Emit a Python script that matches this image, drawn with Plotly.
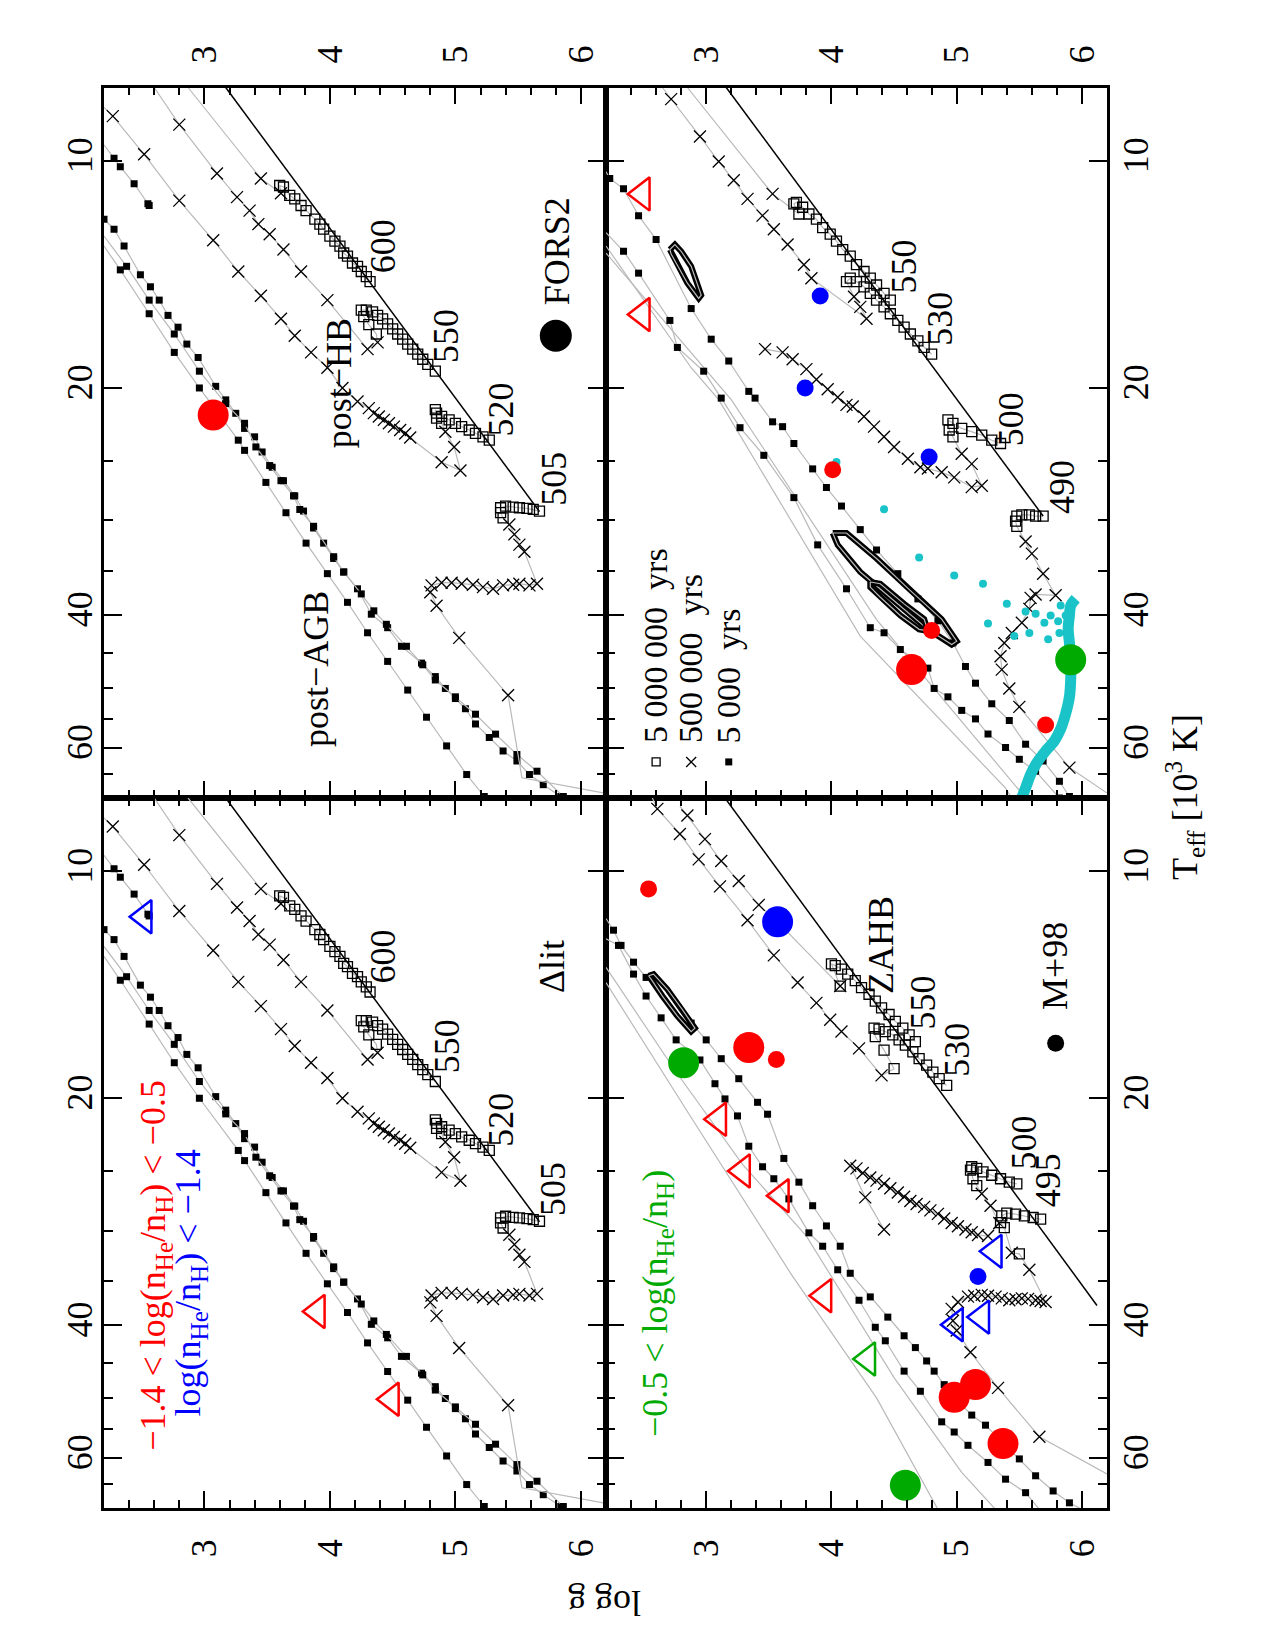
import math
import plotly.graph_objects as go

FONT = "Liberation Serif"
GRAY = "#b9b9b9"
RED = "#ff0000"
BLUE = "#0000ff"
GREEN = "#00aa00"
CYAN = "#19c3c8"

# ---------------- axes values ----------------
LOGG_RANGE = [2.2, 6.2]
TEFF_RANGE = [8.0, 70.0]            # 10^3 K, log axis
LOGG_TICKS = [3, 4, 5, 6]
LOGG_MINOR = [2.4, 2.6, 2.8, 3.2, 3.4, 3.6, 3.8, 4.2, 4.4, 4.6, 4.8, 5.2, 5.4, 5.6, 5.8]
TEFF_TICKS = [10, 20, 40, 60]
TEFF_LONG_UNLABELLED = [15]
TEFF_MINOR = [25, 30, 35, 45, 50, 55, 65]

# ---------------- tracks: (log g, Teff [kK], marker) ----------------
# marker: s = every 5 000 000 yrs, x = every 500 000 yrs, f = every 5 000 yrs, - = none
ZAHB_LEFT = [(3.17, 8.0), (5.67, 29.2)]
ZAHB_TR = [(3.16, 8.0), (5.69, 29.6)]
ZAHB_BR = [(3.15, 8.0), (6.12, 37.7)]

A600 = [(4.32, 14.47, 's'), (4.29, 14.25, 's'), (4.25, 14.03, 's'), (4.22, 13.81, 's'), (4.18, 13.67, 's'),
        (4.14, 13.39, 's'), (4.11, 13.26, 's'), (4.08, 12.98, 's'), (4.04, 12.79, 's'), (4.00, 12.59, 's'),
        (3.95, 12.33, 's'), (3.92, 12.14, 's'), (3.88, 11.96, 's'), (3.81, 11.65, 's'), (3.77, 11.47, 's'),
        (3.72, 11.24, 's'), (3.68, 11.12, 's'), (3.63, 10.84, 's'), (3.60, 10.79, 's'), (3.61, 11.05, 'x'),
        (3.45, 10.56, 'x'), (2.87, 8.0, '-')]
A550 = [(4.84, 19.02, 's'), (4.78, 18.63, 's'), (4.74, 18.34, 's'), (4.70, 18.06, 's'), (4.66, 17.78, 's'),
        (4.62, 17.51, 's'), (4.58, 17.25, 's'), (4.54, 16.98, 's'), (4.50, 16.72, 's'), (4.46, 16.46, 's'),
        (4.42, 16.21, 's'), (4.38, 16.04, 's'), (4.34, 15.87, 's'), (4.29, 15.79, 's'), (4.25, 15.79, 's'),
        (4.27, 16.10, 's'), (4.31, 16.50, 's'), (4.37, 16.98, 's'), (4.38, 17.42, 'x'), (4.30, 17.78, 'x'),
        (3.98, 15.31, 'x'), (3.77, 14.03, 'x'), (3.63, 13.12, 'x'), (3.52, 12.52, 'x'), (3.43, 12.14, 'x'),
        (3.36, 11.65, 'x'), (3.26, 11.18, 'x'), (3.10, 10.40, 'x'), (2.80, 8.96, 'x'), (2.60, 8.0, '-')]
A520 = [(5.27, 23.48, 's'), (5.22, 23.24, 's'), (5.16, 23.00, 's'), (5.11, 22.76, 's'), (5.05, 22.53, 's'),
        (5.00, 22.30, 's'), (4.95, 22.07, 's'), (4.89, 21.84, 's'), (4.85, 21.62, 's'), (4.84, 21.39, 's'),
        (4.85, 21.95, 's'), (4.89, 22.30, 's'), (4.92, 22.88, 'x'), (4.99, 23.97, 'x'), (5.04, 25.76, 'x'),
        (4.89, 25.11, 'x'), (4.64, 23.29, 'x'), (4.60, 23.00, 'x'), (4.56, 22.76, 'x'), (4.51, 22.53, 'x'),
        (4.47, 22.30, 'x'), (4.43, 22.07, 'x'), (4.39, 21.84, 'x'), (4.35, 21.62, 'x'), (4.31, 21.29, 'x'),
        (4.22, 20.86, 'x'), (4.10, 20.02, 'x'), (3.98, 18.82, 'x'), (3.85, 17.96, 'x'), (3.72, 17.07, 'x'),
        (3.61, 16.21, 'x'), (3.45, 15.11, 'x'), (3.27, 14.03, 'x'), (3.07, 12.75, 'x'), (2.80, 11.30, 'x'),
        (2.52, 9.81, 'x'), (2.27, 8.73, 'x'), (2.20, 8.50, '-')]
A505 = [(5.67, 29.15, 's'), (5.62, 29.01, 's'), (5.57, 28.92, 's'), (5.51, 28.86, 's'), (5.46, 28.80, 's'),
        (5.40, 28.71, 's'), (5.36, 28.86, 's'), (5.36, 29.30, 's'), (5.38, 29.76, 's'), (5.43, 30.38, 'x'),
        (5.47, 31.30, 'x'), (5.51, 32.30, 'x'), (5.55, 33.00, 'x'), (5.65, 36.39, 'x'), (5.59, 36.58, 'x'),
        (5.51, 36.39, 'x'), (5.46, 36.50, 'x'), (5.38, 36.58, 'x'), (5.30, 36.96, 'x'), (5.22, 36.77, 'x'),
        (5.14, 36.50, 'x'), (5.05, 36.39, 'x'), (4.97, 36.28, 'x'), (4.89, 36.28, 'x'), (4.81, 36.58, 'x'),
        (4.80, 37.35, 'x'), (4.85, 38.92, 'x'), (5.03, 42.93, 'x'), (5.42, 51.14, 'x'), (5.53, 65.80, '-'),
        (6.20, 69.00, '-')]
A_PA_SHORT = [(2.20, 9.53, '-'), (2.28, 9.93, 'f'), (2.33, 10.19, 'f'), (2.44, 10.73, 'f'), (2.55, 11.41, 'f'),
              (2.56, 11.47, 'f')]
A_PA_U = [(2.20, 11.96, 'f'), (2.28, 12.33, 'f'), (2.36, 12.98, 'f'), (2.49, 14.17, 'f'), (2.57, 14.70, 'f'),
          (2.64, 15.31, 'f'), (2.71, 16.04, 'f'), (2.79, 16.63, 'f'), (2.86, 17.51, 'f'), (2.95, 18.24, 'f'),
          (3.09, 19.92, 'f'), (3.17, 20.76, 'f'), (3.25, 21.63, 'f'), (3.32, 22.65, 'f'), (3.40, 23.24, 'f'),
          (3.46, 24.34, 'f'), (3.54, 25.50, 'f'), (3.63, 26.57, 'f'), (3.72, 27.83, 'f'), (3.79, 29.15, 'f'),
          (3.87, 30.70, 'f'), (3.95, 32.15, 'f'), (4.03, 33.69, 'f'), (4.11, 35.11, 'f'), (4.22, 36.96, 'f'),
          (4.33, 39.94, 'f'), (4.46, 41.62, 'f'), (4.57, 44.05, 'f'), (4.73, 46.37, 'f'), (4.84, 48.32, 'f'),
          (4.92, 50.10, 'f'), (5.00, 51.67, 'f'), (5.08, 53.30, 'f'), (5.16, 55.84, 'f'), (5.27, 58.19, 'f'),
          (5.38, 60.64, 'f'), (5.49, 62.52, 'f'), (5.59, 65.16, 'f'), (5.70, 67.21, 'f'), (5.84, 69.68, 'f')]
A_PA_V = [(2.20, 12.59, '-'), (2.38, 13.81, 'f'), (2.56, 15.31, 'f'), (2.76, 16.98, 'f'), (2.96, 19.02, 'f'),
          (3.17, 21.00, 'f'), (3.32, 22.30, 'f'), (3.41, 23.97, 'f'), (3.52, 25.37, 'f'), (3.61, 26.57, 'f'),
          (3.71, 27.83, 'f'), (3.76, 29.01, 'f'), (3.87, 30.54, 'f'), (4.03, 33.51, 'f'), (4.11, 35.11, 'f'),
          (4.25, 37.54, 'f'), (4.35, 39.53, 'f'), (4.45, 41.19, 'f'), (4.61, 44.05, 'f'), (4.74, 46.61, 'f'),
          (4.84, 48.82, 'f'), (5.00, 51.40, 'f'), (5.16, 54.20, 'f'), (5.32, 57.60, 'f'), (5.49, 61.30, 'f'),
          (5.65, 64.50, 'f'), (5.86, 69.68, 'f')]
A_PA_L = [(2.20, 12.98, '-'), (2.33, 13.96, 'f'), (2.56, 15.96, 'f'), (2.76, 17.96, 'f'), (2.96, 20.02, 'f'),
          (3.27, 23.48, 'f'), (3.32, 24.22, 'f'), (3.49, 26.71, 'f'), (3.65, 29.30, 'f'), (3.81, 32.15, 'f'),
          (3.98, 35.29, 'f'), (4.14, 38.52, 'f'), (4.30, 42.27, 'f'), (4.46, 46.13, 'f'), (4.62, 50.35, 'f'),
          (4.77, 54.70, 'f'), (4.93, 59.71, 'f'), (5.09, 65.16, 'f'), (5.23, 69.68, 'f')]

B550 = [(4.47, 15.31, 's'), (4.42, 15.00, 's'), (4.36, 14.62, 's'), (4.31, 14.32, 's'), (4.26, 14.03, 's'),
        (4.20, 13.74, 's'), (4.15, 13.39, 's'), (4.09, 13.12, 's'), (4.04, 12.79, 's'), (3.99, 12.52, 's'),
        (3.93, 12.27, 's'), (3.88, 11.96, 's'), (3.82, 11.77, 's'), (3.77, 11.53, 's'), (3.72, 11.36, 's'),
        (3.70, 11.41, 's'), (3.74, 11.77, 's'), (3.53, 11.07, 'x'), (2.85, 8.0, '-')]
B530 = [(4.80, 18.06, 's'), (4.74, 17.69, 's'), (4.69, 17.34, 's'), (4.63, 16.98, 's'), (4.58, 16.63, 's'),
        (4.53, 16.29, 's'), (4.47, 15.96, 's'), (4.42, 15.63, 's'), (4.36, 15.31, 's'), (4.31, 15.00, 's'),
        (4.26, 14.70, 's'), (4.20, 14.47, 's'), (4.15, 14.32, 's'), (4.12, 14.47, 's'), (4.18, 15.15, 'x'),
        (4.23, 15.63, 'x'), (4.28, 16.21, 'x'), (3.84, 14.32, 'x'), (3.78, 13.74, 'x'), (3.65, 12.92, 'x'),
        (3.54, 12.33, 'x'), (3.45, 11.83, 'x'), (3.33, 11.24, 'x'), (3.22, 10.62, 'x'), (3.10, 10.03, 'x'),
        (2.95, 9.29, 'x'), (2.72, 8.29, 'x'), (2.65, 8.0, '-')]
B500 = [(5.35, 23.72, 's'), (5.28, 23.48, 's'), (5.20, 23.12, 's'), (5.12, 22.88, 's'), (5.04, 22.65, 's'),
        (4.97, 22.30, 's'), (4.93, 22.07, 's'), (4.94, 22.76, 's'), (4.97, 23.24, 's'), (5.04, 24.47, 'x'),
        (5.12, 25.24, 'x'), (5.20, 26.98, 'x'), (5.12, 27.10, 'x'), (4.98, 26.30, 'x'), (4.88, 25.90, 'x'),
        (4.77, 25.60, 'x'), (4.71, 25.50, 'x'), (4.61, 24.85, 'x'), (4.50, 23.97, 'x'), (4.42, 23.24, 'x'),
        (4.34, 22.53, 'x'), (4.26, 21.84, 'x'), (4.17, 21.18, 'x'), (4.12, 21.08, 'x'), (4.05, 20.60, 'x'),
        (3.97, 20.10, 'x'), (3.88, 19.51, 'x'), (3.80, 18.90, 'x'), (3.69, 18.34, 'x'), (3.61, 17.96, 'x'),
        (3.47, 17.78, 'x')]
B490 = [(5.69, 29.6, 's'), (5.63, 29.6, 's'), (5.58, 29.5, 's'), (5.52, 29.5, 's'), (5.48, 29.6, 's'),
        (5.47, 30.07, 's'), (5.48, 30.54, 's'), (5.55, 31.99, 'x'), (5.60, 33.2, 'x'), (5.69, 35.3, 'x'),
        (5.79, 37.7, 'x'), (5.63, 37.6, 'x'), (5.59, 38.0, 'x'), (5.58, 39.3, 'x'), (5.52, 41.0, 'x'),
        (5.44, 42.3, 'x'), (5.38, 43.6, 'x'), (5.35, 45.4, 'x'), (5.36, 47.3, 'x'), (5.42, 50.1, 'x'),
        (5.50, 53.0, 'x'), (5.90, 63.8, 'x'), (6.20, 68.96, '-')]
B_PA_1 = [(2.20, 10.35, '-'), (2.23, 10.56, 'f'), (2.34, 10.90, 'f'), (2.46, 11.83, 'f'), (2.60, 12.72, 'f'),
          (2.88, 15.71, 'f'), (3.04, 17.25, 'f'), (3.18, 18.44, 'f'), (3.34, 20.23, 'f'), (3.39, 20.65, 'f'),
          (3.53, 22.20, 'f'), (3.61, 22.53, 'f'), (3.70, 23.72, 'f'), (3.85, 25.63, 'f'), (3.96, 27.13, 'f'),
          (4.08, 28.71, 'f'), (4.23, 30.85, 'f'), (4.36, 32.83, 'f'), (4.53, 35.29, 'f'), (4.69, 38.12, 'f'),
          (4.85, 40.75, 'f'), (4.97, 43.60, 'f'), (5.07, 46.85, 'f'), (5.15, 49.30, 'f'), (5.28, 52.50, 'f'),
          (5.42, 55.25, 'f'), (5.55, 59.40, 'f'), (5.69, 62.52, 'f'), (5.82, 66.52, 'f'), (5.90, 69.68, 'f')]
B_PA_2 = [(2.20, 12.46, '-'), (2.34, 13.19, 'f'), (2.46, 14.10, 'f'), (2.71, 16.29, 'f'), (2.77, 17.69, 'f'),
          (2.98, 19.02, 'f'), (3.12, 20.65, 'f'), (3.27, 22.60, 'f'), (3.46, 24.59, 'f'), (3.70, 27.98, 'f'),
          (3.89, 32.32, 'f'), (4.12, 36.96, 'f'), (4.31, 41.62, 'f'), (4.42, 42.27, 'f'), (4.55, 44.49, 'f'),
          (4.77, 47.09, 'f'), (4.82, 50.10, 'f'), (4.93, 51.40, 'f'), (5.04, 53.57, 'f'), (5.15, 54.98, 'f'),
          (5.25, 57.58, 'f'), (5.39, 60.00, 'f'), (5.50, 62.20, 'f'), (5.63, 64.50, 'f'), (5.82, 70.00, 'f')]
B_PA_3 = [(2.20, 12.98, '-'), (2.88, 18.82, '-'), (3.10, 20.75, '-'), (4.23, 42.70, '-'), (5.39, 67.90, '-'),
          (5.45, 70.50, '-')]
B_PA_4 = [(2.20, 13.26, '-'), (3.20, 20.75, '-'), (4.36, 40.60, '-'), (5.55, 70.00, '-')]
B_LOOP_1 = [(4.01, 31.17), (4.12, 31.17), (4.36, 33.69), (4.63, 37.16), (4.88, 40.55), (5.00, 43.37),
            (4.96, 43.82), (4.77, 41.83), (4.50, 38.33), (4.23, 35.11), (4.05, 32.32), (4.01, 31.17)]
B_LOOP_2 = [(4.31, 36.20), (4.39, 36.39), (4.58, 38.70), (4.74, 40.55), (4.77, 42.03), (4.70, 41.83),
            (4.55, 40.10), (4.39, 37.93), (4.31, 36.77), (4.31, 36.20)]
B_LOOP_S = [(2.71, 13.12), (2.75, 12.92), (2.80, 13.19), (2.88, 13.81), (2.96, 15.08), (2.94, 15.23),
            (2.85, 14.54), (2.76, 13.67), (2.72, 13.30), (2.71, 13.12)]

C550 = [(4.67, 16.84, 's'), (4.62, 16.50, 's'), (4.57, 16.16, 's'), (4.51, 15.83, 's'), (4.46, 15.50, 's'),
        (4.40, 15.19, 's'), (4.35, 14.88, 's'), (4.30, 14.57, 's'), (4.24, 14.28, 's'), (4.19, 13.98, 's'),
        (4.13, 13.70, 's'), (4.08, 13.49, 's'), (4.03, 13.35, 's'), (4.00, 13.28, 's'), (4.07, 14.21, 's'),
        (4.07, 14.21, 'x'), (3.57, 11.68, 'x'), (3.42, 11.09, 'x'), (3.26, 10.31, 'x'), (3.12, 9.70, 'x'),
        (2.99, 9.07, 'x'), (2.85, 8.44, 'x'), (2.79, 8.20, '-')]
C530 = [(4.92, 19.25, 's'), (4.86, 18.86, 's'), (4.81, 18.48, 's'), (4.76, 18.09, 's'), (4.70, 17.74, 's'),
        (4.65, 17.37, 's'), (4.59, 17.02, 's'), (4.54, 16.75, 's'), (4.49, 16.50, 's'), (4.43, 16.33, 's'),
        (4.38, 16.21, 's'), (4.34, 16.16, 's'), (4.35, 16.58, 's'), (4.42, 17.28, 's'), (4.50, 18.29, 's'),
        (4.40, 18.67, 'x'), (4.22, 17.19, 'x'), (4.08, 16.33, 'x'), (3.99, 15.75, 'x'), (3.88, 14.96, 'x'),
        (3.73, 14.06, 'x'), (3.54, 12.94, 'x'), (3.33, 11.62, 'x'), (3.11, 10.48, 'x'), (2.94, 9.65, 'x'),
        (2.79, 8.93, 'x'), (2.61, 8.27, 'x'), (2.57, 8.0, '-')]
C500 = [(5.48, 26.00, 's'), (5.42, 25.87, 's'), (5.35, 25.60, 's'), (5.28, 25.33, 's'), (5.21, 25.07, 's'),
        (5.16, 24.80, 's'), (5.12, 24.68, 's'), (5.11, 24.94, 's'), (5.13, 25.60, 's'), (5.16, 26.14, 's'),
        (5.20, 26.80, 'x'), (5.27, 27.80, 'x'), (5.34, 29.30, 'x'), (5.25, 30.50, 'x'), (5.17, 30.40, 'x'),
        (5.12, 30.15, 'x'), (5.07, 29.90, 'x'), (5.01, 29.60, 'x'), (4.96, 29.30, 'x'), (4.90, 28.90, 'x'),
        (4.85, 28.50, 'x'), (4.79, 28.20, 'x'), (4.74, 27.90, 'x'), (4.68, 27.65, 'x'), (4.63, 27.40, 'x'),
        (4.58, 27.05, 'x'), (4.53, 26.70, 'x'), (4.47, 26.35, 'x'), (4.42, 26.00, 'x'), (4.36, 25.75, 'x'),
        (4.31, 25.50, 'x'), (4.25, 25.15, 'x'), (4.20, 24.80, 'x'), (4.15, 24.60, 'x'), (4.27, 27.10, 'x'),
        (4.42, 29.90, 'x')]
C495 = [(5.67, 28.97, 's'), (5.61, 28.82, 's'), (5.54, 28.68, 's'), (5.47, 28.53, 's'), (5.40, 28.44, 's'),
        (5.36, 28.68, 's'), (5.35, 29.27, 's'), (5.38, 29.73, 's'), (5.44, 32.10, 'x'), (5.50, 32.20, 's'),
        (5.58, 33.80, 'x'), (5.71, 37.30, 'x'), (5.67, 37.20, 'x'), (5.63, 37.10, 'x'), (5.57, 36.95, 'x'),
        (5.52, 36.90, 'x'), (5.47, 37.00, 'x'), (5.42, 37.10, 'x'), (5.36, 36.90, 'x'), (5.31, 36.70, 'x'),
        (5.25, 36.60, 'x'), (5.20, 36.50, 'x'), (5.14, 36.60, 'x'), (5.09, 36.70, 'x'), (5.01, 37.30, 'x'),
        (4.96, 38.10, 'x'), (4.97, 39.50, 'x'), (5.00, 40.70, 'x'), (5.11, 43.50, 'x'), (5.33, 48.50, 'x'),
        (5.66, 56.30, 'x'), (6.20, 63.10, '-')]
C_PA_0 = [(2.20, 11.56, '-'), (2.26, 11.98, 'f'), (2.32, 12.55, 'f'), (2.42, 13.21, 'f'), (2.52, 13.84, 'f'),
          (2.54, 13.77, '-')]
C_PA_1 = [(2.88, 15.91, 'f'), (3.00, 16.75, 'f'), (3.12, 17.74, 'f'), (3.26, 18.86, 'f'), (3.41, 20.27, 'f'),
          (3.49, 21.02, 'f'), (3.62, 24.06, 'f'), (3.74, 25.87, 'f'), (3.85, 27.80, 'f'), (3.96, 29.57, 'f'),
          (4.07, 31.46, 'f'), (4.15, 34.17, 'f'), (4.31, 36.73, 'f'), (4.45, 39.07, 'f'), (4.58, 41.36, 'f'),
          (4.67, 42.88, 'f'), (4.76, 44.67, 'f'), (4.82, 46.08, 'f'), (4.90, 48.02, 'f'), (5.01, 50.56, 'f'),
          (5.12, 52.70, 'f'), (5.23, 54.35, 'f'), (5.36, 57.20, 'f'), (5.50, 60.25, 'f'), (5.63, 63.44, 'f'),
          (5.77, 66.45, 'f'), (5.90, 68.90, 'f'), (6.00, 70.30, '-')]
C_PA_2 = [(2.20, 12.30, '-'), (2.30, 12.55, 'f'), (2.42, 13.70, 'f'), (2.52, 14.65, 'f'), (2.64, 15.66, 'f'),
          (2.76, 16.75, 'f'), (2.95, 17.81, 'f'), (3.07, 19.15, 'f'), (3.15, 20.06, 'f'), (3.25, 21.13, 'f'),
          (3.34, 23.18, 'f'), (3.45, 24.68, 'f'), (3.54, 25.60, 'f'), (3.66, 27.23, 'f'), (3.82, 30.20, 'f'),
          (3.93, 31.46, 'f'), (4.05, 33.81, 'f'), (4.22, 37.11, 'f'), (4.35, 40.30, 'f'), (4.43, 42.00, 'f'),
          (4.58, 46.08, 'f'), (4.71, 49.00, 'f'), (4.88, 53.80, 'f'), (4.98, 55.50, 'f'), (5.09, 57.80, 'f'),
          (5.25, 60.90, 'f'), (5.39, 64.10, 'f'), (5.55, 66.80, 'f'), (5.66, 70.30, '-')]
C_PA_3 = [(2.20, 13.42, '-'), (2.75, 18.38, '-'), (3.29, 24.50, '-'), (3.80, 30.50, '-'), (4.50, 47.00, '-'),
          (5.04, 62.80, '-'), (5.31, 70.30, '-')]
C_PA_4 = [(2.20, 14.06, '-'), (2.88, 21.23, '-'), (3.69, 34.50, '-'), (4.36, 50.00, '-'), (4.85, 70.30, '-')]
C_LOOP_S = [(2.54, 13.77), (2.58, 13.70), (2.69, 14.35), (2.81, 15.27), (2.91, 16.16), (2.88, 16.33),
            (2.77, 15.58), (2.65, 14.65), (2.56, 13.91), (2.54, 13.77)]

CYAN_CURVE = [(5.52, 69.9), (5.55, 67.9), (5.59, 65.16), (5.64, 62.85), (5.71, 60.64), (5.78, 58.8),
              (5.83, 56.7), (5.87, 54.1), (5.90, 51.40), (5.91, 48.82), (5.91, 45.9), (5.90, 43.6),
              (5.89, 41.8), (5.90, 40.1), (5.91, 38.92), (5.95, 38.1)]
CYAN_DOTS_G = [4.04, 4.42, 4.70, 4.98, 5.21, 5.25, 5.40, 5.46, 5.55, 5.58, 5.63, 5.70, 5.73, 5.75, 5.82, 5.81,
               5.87, 5.90, 5.83, 5.93]
CYAN_DOTS_T = [25.1, 29.0, 33.6, 35.5, 36.4, 41.1, 38.7, 42.7, 39.6, 42.3, 39.9, 41.0, 43.1, 40.1, 42.3, 40.8,
               40.1, 41.2, 38.9, 38.5]

# ---------------- observed stars: (log g, Teff) ----------------
TL_RED_BIG = [(3.07, 21.74)]
TR_RED_TRI = [(2.49, 11.07), (2.49, 16.0)]
TR_BLUE_SMALL = [(3.91, 15.12), (3.79, 20.02), (4.78, 24.72)]
TR_RED_SMALL = [(4.01, 25.7), (4.80, 41.97), (5.71, 56.0)]
TR_RED_BIG = [(4.64, 47.3)]
TR_GREEN_BIG = [(5.91, 45.9)]
BL_BLUE_TRI = [(2.52, 11.50)]
BL_RED_TRI = [(3.90, 38.4), (4.49, 50.2)]
BR_RED_SMALL = [(2.54, 10.56), (3.56, 17.78)]
BR_BLUE_BIG = [(3.57, 11.68)]
BR_BLUE_SMALL = [(5.17, 34.5)]
BR_RED_BIG = [(3.34, 17.14), (5.15, 48.0), (4.98, 49.9), (5.37, 57.5)]
BR_GREEN_BIG = [(2.82, 17.96), (4.59, 65.3)]
BR_RED_TRI = [(3.10, 21.35), (3.29, 25.0), (3.60, 26.96), (3.94, 36.6)]
BR_GREEN_TRI = [(4.29, 44.4)]
BR_BLUE_TRI = [(5.30, 31.96), (5.20, 39.07), (4.99, 40.0)]

PANELS = {"TL": ("x", "y"), "TR": ("x2", "y2"), "BL": ("x3", "y3"), "BR": ("x4", "y4")}

fig = go.Figure()


def add_track(track, panel, loop=False):
    xa, ya = PANELS[panel]
    g = [p[0] for p in track]
    t = [p[1] for p in track]
    if loop:
        fig.add_trace(go.Scatter(x=g, y=t, mode="lines", line=dict(color="black", width=6),
                                 xaxis=xa, yaxis=ya, showlegend=False, hoverinfo="skip"))
    fig.add_trace(go.Scatter(x=g, y=t, mode="lines", line=dict(color=GRAY, width=1.2),
                             xaxis=xa, yaxis=ya, showlegend=False, hoverinfo="skip"))
    if loop:
        return
    styles = {"s": dict(symbol="square-open", size=10, color="black", line=dict(width=1.3, color="black")),
              "x": dict(symbol="x-thin", size=12, color="black", line=dict(width=1.3, color="black")),
              "f": dict(symbol="square", size=7, color="black", line=dict(width=0))}
    for code, st in styles.items():
        pts = [p for p in track if p[2] == code]
        if pts:
            fig.add_trace(go.Scatter(x=[p[0] for p in pts], y=[p[1] for p in pts], mode="markers", marker=st,
                                     xaxis=xa, yaxis=ya, showlegend=False, hoverinfo="skip"))


def add_line(pts, panel, color="black", width=1.5):
    xa, ya = PANELS[panel]
    fig.add_trace(go.Scatter(x=[p[0] for p in pts], y=[p[1] for p in pts], mode="lines",
                             line=dict(color=color, width=width), xaxis=xa, yaxis=ya,
                             showlegend=False, hoverinfo="skip"))


def add_pts(pts, panel, color, size, symbol="circle", lw=0):
    xa, ya = PANELS[panel]
    mk = dict(symbol=symbol, size=size, color=color)
    if "open" in symbol:
        mk["line"] = dict(width=lw, color=color)
    else:
        mk["line"] = dict(width=0)
    fig.add_trace(go.Scatter(x=[p[0] for p in pts], y=[p[1] for p in pts], mode="markers", marker=mk,
                             xaxis=xa, yaxis=ya, showlegend=False, hoverinfo="skip"))


# left panels (same models)
for panel in ("TL", "BL"):
    for tr in (A_PA_SHORT, A_PA_U, A_PA_V, A_PA_L, A600, A550, A520, A505):
        add_track(tr, panel)
    add_line(ZAHB_LEFT, panel)

# top right
for tr in (B_PA_3, B_PA_4, B_PA_1, B_PA_2, B550, B530, B500, B490):
    add_track(tr, "TR")
for lp in (B_LOOP_1, B_LOOP_2, B_LOOP_S):
    add_track(lp, "TR", loop=True)
add_line(ZAHB_TR, "TR")

# bottom right
for tr in (C_PA_3, C_PA_4, C_PA_0, C_PA_1, C_PA_2, C550, C530, C500, C495):
    add_track(tr, "BR")
add_track(C_LOOP_S, "BR", loop=True)
add_line(ZAHB_BR, "BR")

# cyan
fig.add_trace(go.Scatter(x=[p[0] for p in CYAN_CURVE], y=[p[1] for p in CYAN_CURVE], mode="lines",
                         line=dict(color=CYAN, width=11, shape="spline"), xaxis="x2", yaxis="y2",
                         showlegend=False, hoverinfo="skip"))
fig.add_trace(go.Scatter(x=CYAN_DOTS_G, y=CYAN_DOTS_T, mode="markers",
                         marker=dict(color=CYAN, size=8, line=dict(width=0)), xaxis="x2", yaxis="y2",
                         showlegend=False, hoverinfo="skip"))

BIG, SMALL, TRI = 31, 17, 29
add_pts(TL_RED_BIG, "TL", RED, BIG)
add_pts(TR_RED_TRI, "TR", RED, TRI, "triangle-left-open", 2.5)
add_pts(TR_BLUE_SMALL, "TR", BLUE, SMALL)
add_pts(TR_RED_SMALL, "TR", RED, SMALL)
add_pts(TR_RED_BIG, "TR", RED, BIG)
add_pts(TR_GREEN_BIG, "TR", GREEN, BIG)
add_pts(BL_BLUE_TRI, "BL", BLUE, TRI, "triangle-left-open", 2.5)
add_pts(BL_RED_TRI, "BL", RED, TRI, "triangle-left-open", 2.5)
add_pts(BR_RED_SMALL, "BR", RED, SMALL)
add_pts(BR_BLUE_BIG, "BR", BLUE, BIG)
add_pts(BR_BLUE_SMALL, "BR", BLUE, SMALL)
add_pts(BR_RED_BIG, "BR", RED, BIG)
add_pts(BR_GREEN_BIG, "BR", GREEN, BIG)
add_pts(BR_RED_TRI, "BR", RED, TRI, "triangle-left-open", 2.5)
add_pts(BR_GREEN_TRI, "BR", GREEN, TRI, "triangle-left-open", 2.5)
add_pts(BR_BLUE_TRI, "BR", BLUE, TRI, "triangle-left-open", 2.5)

# legend symbols
add_pts([(5.80, 17.07)], "TL", "black", 32)
add_pts([(5.79, 16.92)], "BR", "black", 17)
LEG_G = [2.60, 2.88, 3.18]
LEG_T = 62.7
fig.add_trace(go.Scatter(x=[LEG_G[0]], y=[LEG_T], mode="markers", xaxis="x2", yaxis="y2", showlegend=False,
                         marker=dict(symbol="square-open", size=8, color="black", line=dict(width=1.3))))
fig.add_trace(go.Scatter(x=[LEG_G[1]], y=[LEG_T], mode="markers", xaxis="x2", yaxis="y2", showlegend=False,
                         marker=dict(symbol="x-thin", size=10, color="black", line=dict(width=1.3, color="black"))))
fig.add_trace(go.Scatter(x=[LEG_G[2]], y=[LEG_T], mode="markers", xaxis="x2", yaxis="y2", showlegend=False,
                         marker=dict(symbol="square", size=7, color="black")))

# ---------------- text ----------------
annotations = []


def txt(panel, g, t, text, size=36, color="black", angle=-90, xanchor="center", yanchor="middle"):
    xa, ya = PANELS[panel]
    annotations.append(dict(xref=xa, yref=ya, x=g, y=math.log10(t), text=text, showarrow=False,
                            textangle=angle, xanchor=xanchor, yanchor=yanchor,
                            font=dict(family=FONT, size=size, color=color)))


for panel in ("TL", "BL"):
    txt(panel, 4.42, 13.0, "600")
    txt(panel, 4.93, 17.1, "550")
    txt(panel, 5.36, 21.4, "520")
    txt(panel, 5.78, 26.4, "505")
txt("TL", 4.07, 19.75, "post−HB")
txt("TL", 3.89, 47.2, "post−AGB")
txt("TL", 5.81, 13.19, "FORS2")
txt("BL", 5.77, 13.41, "Δlit")
txt("BL", 2.615, 33.4, "−1.4 < log(n<sub>He</sub>/n<sub>H</sub>) < −0.5", color=RED)
txt("BL", 2.897, 35.2, "log(n<sub>He</sub>/n<sub>H</sub>) < −1.4", color=BLUE)
txt("TR", 4.58, 13.81, "550")
txt("TR", 4.86, 16.2, "530")
txt("TR", 5.43, 22.05, "500")
txt("TR", 5.84, 27.1, "490")
NBSP = "\u00a0"
LEG_TEXT = ["5" + NBSP + "000" + NBSP + "000" + NBSP * 2 + "yrs",
            "500" + NBSP + "000" + NBSP * 2 + "yrs",
            "5" + NBSP + "000" + NBSP * 2 + "yrs"]
for g, s in zip(LEG_G, LEG_TEXT):
    txt("TR", g, 59.6, s, size=34, yanchor="bottom")
txt("BR", 4.40, 12.55, "ZAHB")
txt("BR", 4.73, 14.95, "550")
txt("BR", 5.00, 17.28, "530")
txt("BR", 5.54, 22.9, "500")
txt("BR", 5.73, 25.7, "495")
txt("BR", 5.79, 13.38, "M+98")
txt("BR", 2.61, 37.5, "−0.5 < log(n<sub>He</sub>/n<sub>H</sub>)", color=GREEN)

annotations.append(dict(xref="paper", yref="paper", x=605 / 1275, y=1 - 1603 / 1650, text="log g",
                        showarrow=False, textangle=180, xanchor="center", yanchor="middle",
                        font=dict(family=FONT, size=36, color="black")))
annotations.append(dict(xref="paper", yref="paper", x=1185 / 1275, y=1 - 797 / 1650,
                        text="T<sub>eff</sub> [10<sup>3</sup> K]", showarrow=False, textangle=-90,
                        xanchor="center", yanchor="middle",
                        font=dict(family=FONT, size=36, color="black")))

# ---------------- axes ----------------
XL = [104 / 1275, 606 / 1275]
XR = [606 / 1275, 1107 / 1275]
YT = [1 - 798 / 1650, 1 - 87.5 / 1650]
YB = [1 - 1508 / 1650, 1 - 798 / 1650]
TICKFONT = dict(family=FONT, size=36, color="black")


def xax(domain, anchor, side):
    return dict(domain=domain, anchor=anchor, side=side, range=LOGG_RANGE, tickmode="array",
                tickvals=LOGG_TICKS, ticktext=[str(v) for v in LOGG_TICKS], ticks="inside", ticklen=17,
                tickwidth=1.5, tickcolor="black", showline=True, linecolor="black", linewidth=2.5,
                mirror="ticks", showgrid=False, zeroline=False, tickangle=-90, tickfont=TICKFONT,
                ticklabelstandoff=14,
                minor=dict(tickmode="array", tickvals=LOGG_MINOR, ticks="inside", ticklen=8, tickwidth=1.5,
                           tickcolor="black", showgrid=False),
                fixedrange=True)


def yax(domain, anchor, side):
    return dict(domain=domain, anchor=anchor, side=side, type="log",
                range=[math.log10(TEFF_RANGE[1]), math.log10(TEFF_RANGE[0])], tickmode="array",
                tickvals=TEFF_TICKS, ticktext=[str(v) for v in TEFF_TICKS], ticks="inside", ticklen=18,
                tickwidth=1.5, tickcolor="black", showline=True, linecolor="black", linewidth=2.5,
                mirror="ticks", showgrid=False, zeroline=False, tickangle=-90, tickfont=TICKFONT,
                ticklabelstandoff=-5,
                minor=dict(tickmode="array", tickvals=TEFF_MINOR, ticks="inside", ticklen=9, tickwidth=1.5,
                           tickcolor="black", showgrid=False),
                fixedrange=True)


# long unlabelled Teff tick (15) on both sides of every panel
shapes = []
for xa, ya in PANELS.values():
    for tv in TEFF_LONG_UNLABELLED:
        for anchor, x0, x1 in ((LOGG_RANGE[0], 0, 18), (LOGG_RANGE[1], -18, 0)):
            shapes.append(dict(type="line", xref=xa, yref=ya, xsizemode="pixel", xanchor=anchor,
                               x0=x0, x1=x1, y0=math.log10(tv), y1=math.log10(tv),
                               line=dict(color="black", width=1.5)))

fig.update_layout(
    width=1275, height=1650, margin=dict(l=0, r=0, t=0, b=0),
    paper_bgcolor="white", plot_bgcolor="white", showlegend=False,
    xaxis=xax(XL, "y", "top"), yaxis=yax(YT, "x", "left"),
    xaxis2=xax(XR, "y2", "top"), yaxis2=yax(YT, "x2", "right"),
    xaxis3=xax(XL, "y3", "bottom"), yaxis3=yax(YB, "x3", "left"),
    xaxis4=xax(XR, "y4", "bottom"), yaxis4=yax(YB, "x4", "right"),
    annotations=annotations, shapes=shapes,
)

fig.write_html("out.html")
